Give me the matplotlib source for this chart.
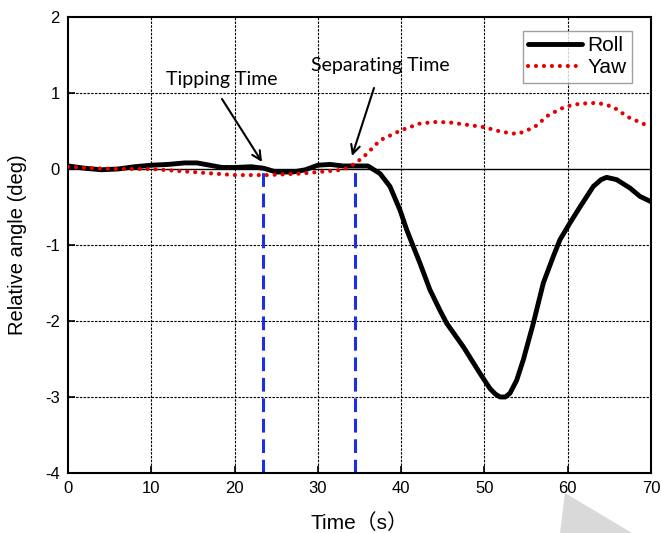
import matplotlib
matplotlib.use("Agg")
import matplotlib.pyplot as plt
from matplotlib.patches import Polygon

# ---- data ----
roll_t = [0, 2, 4, 6, 8, 10, 12, 14, 15.5, 17, 18.5, 20, 22, 23.5, 25, 27, 28.5, 30, 31.5, 33, 34.5, 36,
          37.46, 38.66, 39.86, 40.67, 41.46, 42.26, 43.46, 44.66, 45.47, 47.47, 49.47, 50.67, 51.3,
          51.87, 52.5, 53.07, 53.87, 54.67, 55.87, 57.07, 58.27, 59.07, 60.27, 61.47, 63.07, 64.0,
          64.67, 65.87, 67.47, 68.67, 70]
roll_v = [0.04, 0.01, -0.01, 0.0, 0.03, 0.05, 0.06, 0.08, 0.08, 0.05, 0.02, 0.02, 0.03, 0.01, -0.04, -0.04,
          -0.01, 0.05, 0.06, 0.04, 0.04, 0.04, -0.06, -0.23, -0.54, -0.80, -1.02, -1.24, -1.59, -1.86,
          -2.03, -2.34, -2.69, -2.89, -2.96, -3.0, -3.0, -2.95, -2.78, -2.51, -2.03, -1.50, -1.15, -0.93,
          -0.71, -0.50, -0.23, -0.14, -0.11, -0.14, -0.25, -0.36, -0.43]

yaw_t = [0, 3, 6, 10, 15, 20, 24, 28, 31, 33, 34.3, 35.5, 37.5, 40, 42.3, 44.3, 46, 48, 50, 52, 54, 56,
         57.7, 59.7, 61.5, 63.6, 65.4, 67.3, 70]
yaw_v = [0.03, 0.01, 0.0, 0.0, -0.04, -0.08, -0.08, -0.06, -0.03, -0.01, 0.06, 0.16, 0.38, 0.51, 0.6,
         0.62, 0.61, 0.58, 0.55, 0.49, 0.46, 0.55, 0.71, 0.82, 0.86, 0.87, 0.82, 0.68, 0.55]

event_t = [23.4, 34.5]
x_ticks = [0, 10, 20, 30, 40, 50, 60, 70]
y_ticks = [-4, -3, -2, -1, 0, 1, 2]

fig = plt.figure(figsize=(6.62, 5.33), dpi=100)
ax = fig.add_axes([68 / 662, 60 / 533, 583 / 662, 456 / 533])

tick_font = ['Liberation Sans', 'DejaVu Sans']
note_font = ['Lato', 'DejaVu Sans']

ax.set_xlim(0, 70)
ax.set_ylim(-4, 2)
ax.set_xticks(x_ticks)
ax.set_yticks(y_ticks)
ax.set_xticklabels([str(v) for v in x_ticks], fontfamily=tick_font, fontsize=12)
ax.set_yticklabels([str(v) for v in y_ticks], fontfamily=tick_font, fontsize=12)
ax.tick_params(direction='in', length=5, width=1.2, pad=6)

for x in x_ticks[1:-1]:
    ax.axvline(x, color='black', lw=0.8, dashes=(2.2, 1.2), zorder=1)
for y in y_ticks[1:-1]:
    if y != 0:
        ax.axhline(y, color='black', lw=0.8, dashes=(2.2, 1.2), zorder=1)
ax.axhline(0, color='black', lw=1.0, zorder=1)

for sp in ax.spines.values():
    sp.set_linewidth(1.5)

for et in event_t:
    ax.plot([et, et], [-4, 0], color='#1a2fe6', lw=2.2, dashes=(4.5, 2.2), zorder=2)

ax.plot(roll_t, roll_v, color='black', lw=3.5, solid_joinstyle='round', solid_capstyle='round',
        label='Roll', zorder=4)
ax.plot(yaw_t, yaw_v, color='#e60000', lw=3.0, dashes=(0.01, 1.9), dash_capstyle='round',
        label='Yaw', zorder=5)

leg = ax.legend(loc='upper right', bbox_to_anchor=(632 / 662, 1 - 31 / 533), bbox_transform=fig.transFigure,
                prop={'family': tick_font, 'size': 15}, frameon=True, fancybox=False,
                handlelength=2.6, handletextpad=0.25, borderpad=0.25, labelspacing=0.15,
                borderaxespad=0)
leg.get_frame().set_edgecolor('#888888')
leg.get_frame().set_linewidth(1.0)

ax.set_ylabel('Relative angle (deg)', fontfamily=tick_font, fontsize=14.5, labelpad=13)
ax.set_xlabel('Time（s）', fontfamily=['Liberation Sans', 'Noto Sans CJK SC'], fontsize=15, labelpad=12)

def px2data(px, py):
    return ((px - 68) / 583 * 70, 2 - (py - 17) / 456 * 6)

ax.text(*px2data(222, 80), 'Tipping Time', fontfamily=note_font, fontsize=14, ha='center', va='center')
ax.text(*px2data(380, 65), 'Separating Time', fontfamily=note_font, fontsize=14, ha='center', va='center')
ax.annotate('', xy=px2data(262, 162), xytext=px2data(222, 99),
            arrowprops=dict(arrowstyle='->', color='black', lw=1.5, shrinkA=0, shrinkB=0,
                            mutation_scale=16))
ax.annotate('', xy=px2data(352, 156), xytext=px2data(374, 88),
            arrowprops=dict(arrowstyle='->', color='black', lw=1.5, shrinkA=0, shrinkB=0,
                            mutation_scale=16))

# light grey decorative triangle at bottom right of the picture
tri = Polygon([(565 / 662, 1 - 493 / 533), (560 / 662, 0), (632 / 662, 0)], closed=True,
              transform=fig.transFigure, facecolor='#d9d9d9', edgecolor='none', zorder=0)
fig.patches.append(tri)

fig.savefig('out.png', dpi=100)
